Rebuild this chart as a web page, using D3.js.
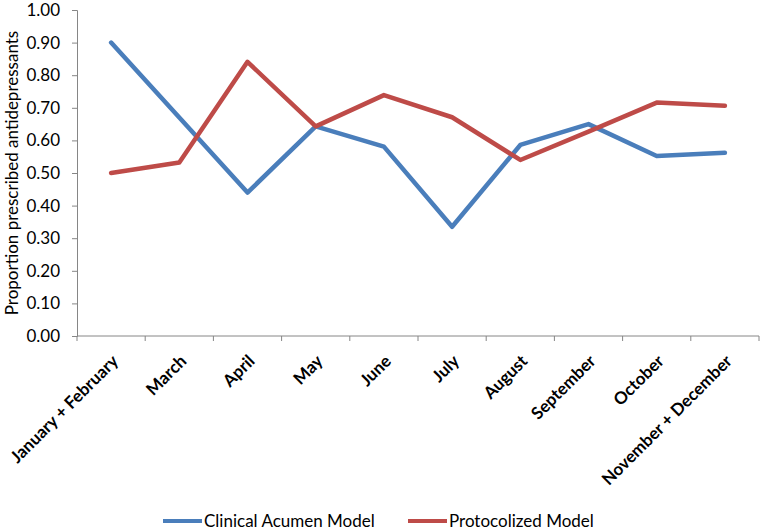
<!DOCTYPE html>
<html>
<head>
<meta charset="utf-8">
<script src="https://cdn.jsdelivr.net/npm/d3@7"></script>
<style>
  body { margin: 0; background: #fff; }
  svg text { font-family: Lato, "Open Sans", sans-serif; fill: #000; }
</style>
</head>
<body>
<svg id="chart" width="763" height="530"></svg>
<script>
// datos
const months = ['January + February', 'March', 'April', 'May', 'June', 'July',
  'August', 'September', 'October', 'November + December'];
const clinicalAcumen = [0.90, 0.67, 0.44, 0.643, 0.581, 0.335, 0.586, 0.650, 0.552, 0.562];
const protocolized = [0.50, 0.532, 0.841, 0.643, 0.739, 0.671, 0.540, 0.627, 0.716, 0.706];
const yTicks = [0, 0.1, 0.2, 0.3, 0.4, 0.5, 0.6, 0.7, 0.8, 0.9, 1.0];

const series = [
  { name: 'Clinical Acumen Model', values: clinicalAcumen, color: '#4A7EBB' },
  { name: 'Protocolized Model', values: protocolized, color: '#BE4B48' }
];

const svg = d3.select('#chart');
const plotLeft = 77, plotRight = 759, plotTop = 10, plotBottom = 336;
const axisColor = '#868686';

const x = d3.scaleBand().domain(months).range([plotLeft, plotRight]);
const y = d3.scaleLinear().domain([0, 1]).range([plotBottom, plotTop]);

// eje Y
const yAxis = svg.append('g')
  .attr('transform', `translate(${plotLeft},0)`)
  .call(d3.axisLeft(y).tickValues(yTicks).tickFormat(d3.format('.2f')).tickSizeOuter(0).tickSize(5));
yAxis.select('.domain').attr('stroke', axisColor);
yAxis.selectAll('.tick line').attr('stroke', axisColor);
yAxis.selectAll('.tick text')
  .attr('x', -17)
  .style('font-size', '17px')
  .style('font-family', 'Lato, sans-serif');

// eje X con marcas en los bordes de las bandas
const xAxis = svg.append('g')
  .attr('transform', `translate(0,${plotBottom})`);
xAxis.append('line')
  .attr('x1', plotLeft).attr('x2', plotRight)
  .attr('stroke', axisColor);
const edges = months.map(m => x(m)).concat([plotRight]);
xAxis.selectAll('.xtick')
  .data(edges)
  .enter()
  .append('line')
  .attr('x1', d => d).attr('x2', d => d)
  .attr('y1', 0).attr('y2', 5)
  .attr('stroke', axisColor);

xAxis.selectAll('.xlabel')
  .data(months)
  .enter()
  .append('text')
  .attr('transform', d => `translate(${x(d) + x.bandwidth() / 2 + 4},${22}) rotate(-45)`)
  .attr('text-anchor', 'end')
  .attr('dy', '0.35em')
  .style('font-size', '17px')
  .style('font-weight', 'bold')
  .text(d => d);

// título del eje Y
svg.append('text')
  .attr('transform', `translate(12,${(plotTop + plotBottom) / 2 + 0}) rotate(-90)`)
  .attr('text-anchor', 'middle')
  .attr('dy', '0.35em')
  .style('font-size', '17px')
  .text('Proportion prescribed antidepressants');

// líneas
const line = d3.line()
  .x((d, i) => x(months[i]) + x.bandwidth() / 2)
  .y(d => y(d));

svg.append('g')
  .selectAll('path')
  .data(series)
  .enter()
  .append('path')
  .attr('d', d => line(d.values))
  .attr('fill', 'none')
  .attr('stroke', d => d.color)
  .attr('stroke-width', 4.5)
  .attr('stroke-linejoin', 'round')
  .attr('stroke-linecap', 'round');

// leyenda
const legendPos = [163, 408];
const legend = svg.append('g')
  .selectAll('g')
  .data(series)
  .enter()
  .append('g')
  .attr('transform', (d, i) => `translate(${legendPos[i]},521)`);
legend.append('line')
  .attr('x1', 0).attr('x2', 39)
  .attr('stroke', d => d.color)
  .attr('stroke-width', 4);
legend.append('text')
  .attr('x', 41)
  .attr('dy', '0.35em')
  .style('font-size', '17px')
  .text(d => d.name);
</script>
</body>
</html>
